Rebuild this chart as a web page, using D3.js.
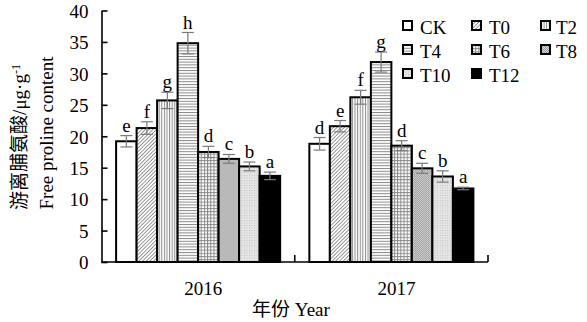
<!DOCTYPE html>
<html>
<head>
<meta charset="utf-8">
<script src="https://cdn.jsdelivr.net/npm/d3@7"></script>
<style>
  body { margin: 0; background: #fff; }
  svg { display: block; }
  text { font-family: "Liberation Serif", "Times New Roman", serif; fill: #000; }
  .cjk { font-family: "Liberation Serif", "Noto Sans CJK SC", serif; }
</style>
</head>
<body>
<svg id="chart" width="587" height="322"></svg>
<script>
// Free proline content by treatment and year
const years = ["2016", "2017"];
const treatments = ["CK", "T0", "T2", "T4", "T6", "T8", "T10", "T12"];
const values2016 = [19.2, 21.3, 25.7, 34.8, 17.5, 16.4, 15.2, 13.7];
const values2017 = [18.8, 21.6, 26.2, 31.8, 18.5, 14.9, 13.6, 11.7];
const errors2016 = [0.9, 1.0, 1.3, 1.7, 0.9, 0.7, 0.7, 0.6];
const errors2017 = [1.0, 0.9, 1.1, 1.6, 0.8, 0.8, 0.9, 0.2];
const letters2016 = ["e", "f", "g", "h", "d", "c", "b", "a"];
const letters2017 = ["d", "e", "f", "g", "d", "c", "b", "a"];
const yTicks = [0, 5, 10, 15, 20, 25, 30, 35, 40];

const rows = [
  { year: years[0], values: values2016, errors: errors2016, letters: letters2016 },
  { year: years[1], values: values2017, errors: errors2017, letters: letters2017 }
];

const svg = d3.select("#chart");
const serif = '"Liberation Serif", "Times New Roman", serif';

// ---- fill patterns ----
const defs = svg.append("defs");
function pattern(id, size, draw, transform) {
  const p = defs.append("pattern")
    .attr("id", id).attr("patternUnits", "userSpaceOnUse")
    .attr("width", size).attr("height", size);
  if (transform) p.attr("patternTransform", transform);
  p.append("rect").attr("width", size).attr("height", size).attr("fill", "#fff");
  draw(p, size);
}
pattern("p-T0", 2.6, (p, s) => p.append("line").attr("x1", 0).attr("y1", 0).attr("x2", 0).attr("y2", s)
  .attr("stroke", "#444").attr("stroke-width", 1.1), "rotate(45)");
pattern("p-T2", 2.6, (p, s) => p.append("line").attr("x1", 0.5).attr("y1", 0).attr("x2", 0.5).attr("y2", s)
  .attr("stroke", "#8a8a8a").attr("stroke-width", 1));
pattern("p-T4", 2.8, (p, s) => p.append("line").attr("x1", 0).attr("y1", 0.5).attr("x2", s).attr("y2", 0.5)
  .attr("stroke", "#8a8a8a").attr("stroke-width", 1));
pattern("p-T6", 3.2, (p, s) => {
  p.append("line").attr("x1", 0.5).attr("y1", 0).attr("x2", 0.5).attr("y2", s).attr("stroke", "#8a8a8a").attr("stroke-width", 1);
  p.append("line").attr("x1", 0).attr("y1", 0.5).attr("x2", s).attr("y2", 0.5).attr("stroke", "#8a8a8a").attr("stroke-width", 1);
});
pattern("p-T8", 2, (p, s) => {
  p.append("rect").attr("width", s).attr("height", s).attr("fill", "#d8d8d8");
  p.append("rect").attr("width", 1).attr("height", 1).attr("fill", "#999");
  p.append("rect").attr("x", 1).attr("y", 1).attr("width", 1).attr("height", 1).attr("fill", "#999");
});
pattern("p-T10", 2.5, (p, s) => {
  p.append("rect").attr("width", s).attr("height", s).attr("fill", "#e6e6e6");
  p.append("rect").attr("width", 1).attr("height", 1).attr("fill", "#bdbdbd");
});

const fills = {
  CK: "#fff", T0: "url(#p-T0)", T2: "url(#p-T2)", T4: "url(#p-T4)",
  T6: "url(#p-T6)", T8: "url(#p-T8)", T10: "url(#p-T10)", T12: "#000"
};

// ---- scales ----
const x0 = d3.scaleBand().domain(years).range([101.5, 488]);
const groupPad = 14.6;
const x1 = d3.scaleBand().domain(treatments).range([groupPad, x0.bandwidth() - groupPad]);
const y = d3.scaleLinear().domain([0, 40]).range([262, 10.5]);

// ---- bars ----
const groups = svg.append("g").selectAll("g").data(rows).join("g")
  .attr("transform", d => `translate(${x0(d.year)},0)`);

const items = groups.selectAll("g.item")
  .data(d => treatments.map((t, i) => ({ t, v: d.values[i], e: d.errors[i], l: d.letters[i] })))
  .join("g").attr("class", "item");

items.append("rect")
  .attr("x", d => x1(d.t))
  .attr("y", d => y(d.v))
  .attr("width", x1.bandwidth())
  .attr("height", d => y(0) - y(d.v))
  .attr("fill", d => fills[d.t])
  .attr("stroke", "#000")
  .attr("stroke-width", 2);

// error bars
const cap = 6;
const err = items.append("g").attr("stroke", "#7a7a7a").attr("stroke-width", 1.2);
err.append("line")
  .attr("x1", d => x1(d.t) + x1.bandwidth() / 2).attr("x2", d => x1(d.t) + x1.bandwidth() / 2)
  .attr("y1", d => y(d.v + d.e)).attr("y2", d => y(d.v - d.e));
err.append("line")
  .attr("x1", d => x1(d.t) + x1.bandwidth() / 2 - cap).attr("x2", d => x1(d.t) + x1.bandwidth() / 2 + cap)
  .attr("y1", d => y(d.v + d.e)).attr("y2", d => y(d.v + d.e));
err.append("line")
  .attr("x1", d => x1(d.t) + x1.bandwidth() / 2 - cap).attr("x2", d => x1(d.t) + x1.bandwidth() / 2 + cap)
  .attr("y1", d => y(d.v - d.e)).attr("y2", d => y(d.v - d.e));

// significance letters
items.append("text")
  .attr("x", d => x1(d.t) + x1.bandwidth() / 2)
  .attr("y", d => y(d.v + d.e) - 4)
  .attr("text-anchor", "middle")
  .attr("font-size", 19)
  .text(d => d.l);

// ---- axes ----
const yAxis = d3.axisLeft(y).tickValues(yTicks).tickSizeInner(-6).tickSizeOuter(0).tickPadding(13);
const gy = svg.append("g").attr("transform", "translate(101.5,0)").call(yAxis);
gy.attr("font-family", null).attr("font-size", null);
gy.select(".domain").attr("stroke-width", 1.6);
gy.selectAll(".tick line").attr("stroke-width", 1.6);
gy.selectAll(".tick text").style("font-family", serif).style("font-size", "19px").attr("dy", "0.36em");

const gx = svg.append("g");
gx.append("line").attr("x1", x0.range()[0]).attr("x2", x0.range()[1])
  .attr("y1", y(0)).attr("y2", y(0)).attr("stroke", "#000").attr("stroke-width", 1.6);
gx.selectAll("line.tick").data(years).join("line").attr("class", "tick")
  .attr("x1", d => x0(d) + x0.bandwidth()).attr("x2", d => x0(d) + x0.bandwidth())
  .attr("y1", y(0)).attr("y2", y(0) - 7).attr("stroke", "#000").attr("stroke-width", 1.6);
gx.selectAll("text").data(years).join("text")
  .attr("x", d => x0(d) + x0.bandwidth() / 2 + 5)
  .attr("y", 295)
  .attr("text-anchor", "middle")
  .attr("font-size", 19)
  .text(d => d);

// axis titles
svg.append("text").attr("class", "cjk")
  .attr("x", 291).attr("y", 316).attr("text-anchor", "middle").attr("font-size", 19)
  .text("年份 Year");

const yt1 = svg.append("text").attr("class", "cjk")
  .attr("transform", "translate(26,137) rotate(-90)")
  .attr("text-anchor", "middle").attr("font-size", 19);
yt1.append("tspan").text("游离脯氨酸/μg·g");
yt1.append("tspan").attr("dy", "-0.5em").attr("font-size", 12).text("-1");

svg.append("text")
  .attr("transform", "translate(53,133) rotate(-90)")
  .attr("text-anchor", "middle").attr("font-size", 19)
  .text("Free proline content");

// ---- legend ----
const legendCols = [403, 472, 541];
const legend = svg.append("g").selectAll("g").data(treatments).join("g")
  .attr("transform", (d, i) => `translate(${legendCols[i % 3]},${21 + Math.floor(i / 3) * 24})`);
legend.append("rect")
  .attr("x", 0).attr("y", 0).attr("width", 9).attr("height", 9)
  .attr("fill", d => fills[d]).attr("stroke", "#000").attr("stroke-width", 2);
legend.append("text")
  .attr("x", (d, i) => (i % 3 === 2 ? 15 : 17)).attr("y", 13)
  .attr("font-size", 19)
  .text(d => d);
</script>
</body>
</html>
